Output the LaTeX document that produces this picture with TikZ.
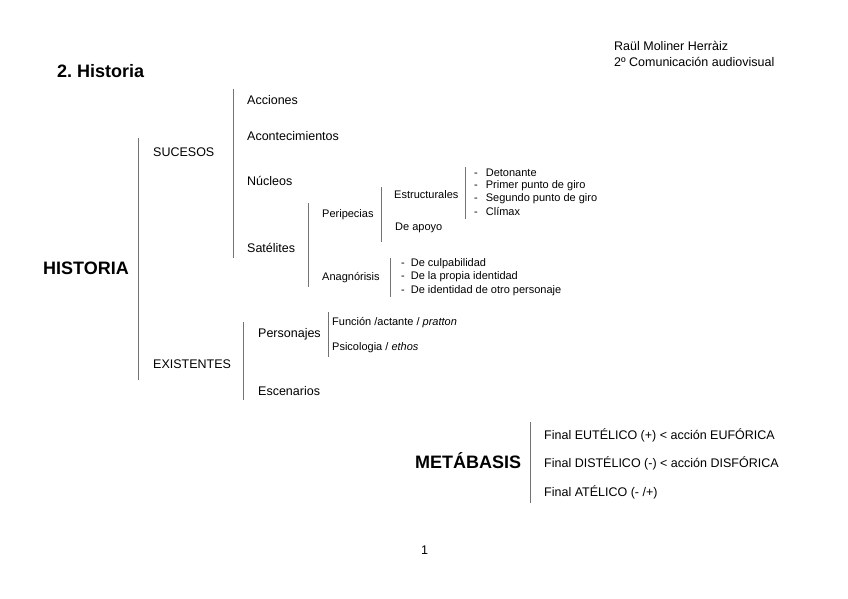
\documentclass[tikz,border=0pt]{standalone}
\usepackage{fontspec}
\setmainfont{Liberation Sans}
\tikzset{
  lbl/.style={anchor=west, inner sep=0pt, font=\fontsize{12.5}{14}\selectfont},
  small/.style={anchor=west, inner sep=0pt, font=\fontsize{11}{12}\selectfont},
  big/.style={anchor=west, inner sep=0pt, font=\fontsize{18}{21}\selectfont\bfseries},
  bar/.style={draw=black!55, line width=0.9pt}
}
\begin{document}
\begin{tikzpicture}[x=1pt,y=-1pt]
\useasboundingbox (0,0) rectangle (848,599);
% header
\node[big] (title) at (57,71) {2.\ Historia};
\node[lbl] (author) at (614,46) {Raül Moliner Herràiz};
\node[lbl] (course) at (614,62) {2º Comunicación audiovisual};
% historia
\node[big] (hist) at (43,268) {HISTORIA};
\draw[bar] (138,138) -- (138,380);
\node[lbl] (suc) at (153,152) {SUCESOS};
\node[lbl] (exi) at (153,364) {EXISTENTES};
% sucesos
\draw[bar] (233,89) -- (233,258);
\node[lbl] (acc) at (247,100) {Acciones};
\node[lbl] (acon) at (247,136) {Acontecimientos};
\node[lbl] (nuc) at (247,181) {Núcleos};
\node[lbl] (sat) at (247,248) {Satélites};
% satelites
\draw[bar] (308,203) -- (308,287);
\node[small] (peri) at (322,215) {Peripecias};
\node[small] (anag) at (322,278) {Anagnórisis};
\draw[bar] (381,187) -- (381,242);
\node[small] (estr) at (394,195) {Estructurales};
\node[small] (apoyo) at (395,228) {De apoyo};
\draw[bar] (465,167) -- (465,219);
\node[small] (det) at (474,173) {-\hspace{8pt}Detonante};
\node[small] (pri) at (474,186) {-\hspace{8pt}Primer punto de giro};
\node[small] (seg) at (474,199) {-\hspace{8pt}Segundo punto de giro};
\node[small] (cli) at (474,212) {-\hspace{8pt}Clímax};
\draw[bar] (390,258) -- (390,297);
\node[small] (culp) at (401,264) {-\hspace{6pt}De culpabilidad};
\node[small] (prop) at (401,277) {-\hspace{6pt}De la propia identidad};
\node[small] (otro) at (401,291) {-\hspace{6pt}De identidad de otro personaje};
% existentes
\draw[bar] (243,322) -- (243,400);
\node[lbl] (pers) at (258,334) {Personajes};
\node[lbl] (esc) at (258,391) {Escenarios};
\draw[bar] (328,312) -- (328,357);
\node[small] (func) at (332,323) {Función /actante / \textit{pratton}};
\node[small] (psic) at (332,348) {Psicologia / \textit{ethos}};
% metabasis
\node[big] (meta) at (415,461) {METÁBASIS};
\draw[bar] (530,422) -- (530,503);
\node[lbl] (eut) at (544,435) {Final EUTÉLICO (+) < acción EUFÓRICA};
\node[lbl] (dis) at (544,463) {Final DISTÉLICO (-) < acción DISFÓRICA};
\node[lbl] (ate) at (544,492) {Final ATÉLICO (- /+)};
\node[lbl] (page) at (421,550) {1};
\end{tikzpicture}
\end{document}
